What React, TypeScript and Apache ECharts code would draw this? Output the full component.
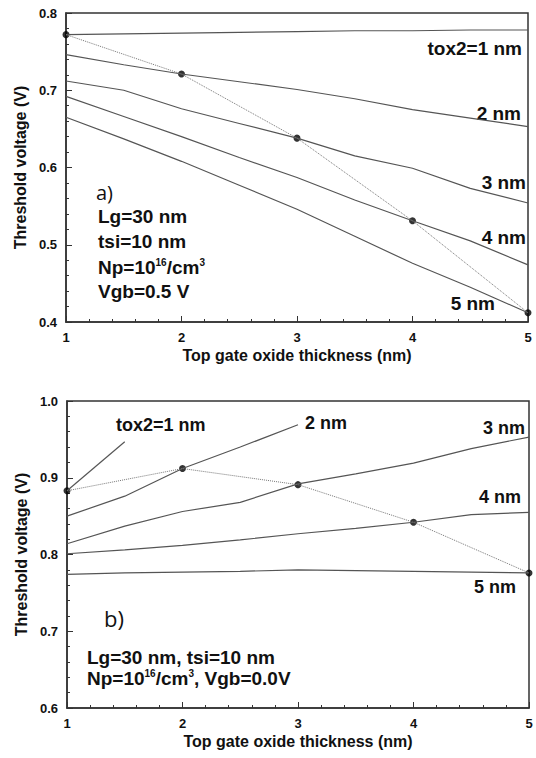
import React, { useEffect, useRef } from "react";
import * as echarts from "echarts";

// ---------- data ----------
const xs = [1, 1.5, 2, 2.5, 3, 3.5, 4, 4.5, 5];

// (a) Vgb = 0.5 V
const aTox1 = [0.772, 0.773, 0.774, 0.775, 0.776, 0.777, 0.777, 0.778, 0.778];
const aTox2 = [0.746, 0.733, 0.721, 0.711, 0.701, 0.689, 0.675, 0.664, 0.653];
const aTox3 = [0.712, 0.700, 0.676, 0.657, 0.638, 0.615, 0.599, 0.573, 0.554];
const aTox4 = [0.692, 0.666, 0.640, 0.613, 0.587, 0.558, 0.531, 0.505, 0.474];
const aTox5 = [0.665, 0.637, 0.608, 0.577, 0.546, 0.511, 0.476, 0.445, 0.412];
const dotX = [1, 2, 3, 4, 5];
const aDots = [0.772, 0.721, 0.638, 0.531, 0.412];

// (b) Vgb = 0.0 V
const bTox1X = [1, 1.5];
const bTox1 = [0.883, 0.947];
const bTox2X = [1, 1.5, 2, 2.5, 3];
const bTox2 = [0.850, 0.876, 0.912, 0.940, 0.969];
const bTox3 = [0.814, 0.837, 0.856, 0.868, 0.892, 0.905, 0.919, 0.938, 0.953];
const bTox4 = [0.801, 0.806, 0.812, 0.819, 0.827, 0.834, 0.842, 0.852, 0.855];
const bTox5 = [0.774, 0.776, 0.777, 0.778, 0.780, 0.779, 0.778, 0.777, 0.776];
const bDots = [0.883, 0.912, 0.891, 0.842, 0.776];

const xTicks = ["1", "2", "3", "4", "5"];
const xTitle = "Top gate oxide thickness (nm)";
const yTitle = "Threshold voltage (V)";

const FONT = "'Liberation Sans', Arial, sans-serif";

const pairs = (x: number[], y: number[]) => y.map((v, i) => [x[i], v]);

function lineSeries(idx: number, x: number[], y: number[]) {
  return {
    type: "line",
    xAxisIndex: idx,
    yAxisIndex: idx,
    data: pairs(x, y),
    showSymbol: false,
    silent: true,
    lineStyle: { color: "#555", width: 1.2 },
  };
}

function dottedSeries(idx: number, y: number[]) {
  return {
    type: "line",
    xAxisIndex: idx,
    yAxisIndex: idx,
    data: pairs(dotX, y),
    showSymbol: false,
    silent: true,
    lineStyle: { color: "#777", width: 1, type: "dotted" },
  };
}

function dotSeries(idx: number, y: number[]) {
  return {
    type: "scatter",
    xAxisIndex: idx,
    yAxisIndex: idx,
    data: pairs(dotX, y),
    symbolSize: 7,
    silent: true,
    itemStyle: { color: "#000" },
  };
}

function xAxis(idx: number) {
  return {
    type: "value",
    gridIndex: idx,
    min: 1,
    max: 5,
    interval: 1,
    axisLine: { show: true, lineStyle: { color: "#333", width: 1.5 } },
    axisTick: { show: true, inside: true, length: 6, lineStyle: { color: "#333" } },
    minorTick: { show: true, splitNumber: 5, length: 3, lineStyle: { color: "#333" } },
    splitLine: { show: false },
    minorSplitLine: { show: false },
    axisLabel: {
      margin: 9,
      color: "#111",
      fontWeight: "bold",
      fontSize: 13,
      fontFamily: FONT,
      formatter: (v: number) => xTicks[Math.round(v) - 1] ?? "",
    },
    name: xTitle,
    nameLocation: "middle",
    nameGap: 25,
    nameTextStyle: { color: "#111", fontWeight: "bold", fontSize: 16, fontFamily: FONT },
  };
}

function yAxis(idx: number, min: number, max: number) {
  return {
    type: "value",
    gridIndex: idx,
    min,
    max,
    interval: 0.1,
    axisLine: { show: true, lineStyle: { color: "#333", width: 1.5 } },
    axisTick: { show: true, inside: true, length: 6, lineStyle: { color: "#333" } },
    minorTick: { show: true, splitNumber: 5, length: 3, lineStyle: { color: "#333" } },
    splitLine: { show: false },
    minorSplitLine: { show: false },
    axisLabel: {
      margin: 9,
      color: "#111",
      fontWeight: "bold",
      fontSize: 13,
      fontFamily: FONT,
      formatter: (v: number) => v.toFixed(1),
    },
    name: yTitle,
    nameLocation: "middle",
    nameGap: 38,
    nameRotate: 90,
    nameTextStyle: { color: "#111", fontWeight: "bold", fontSize: 16, fontFamily: FONT },
  };
}

function txt(x: number, y: number, text: string, size: number, align = "left", extra: any = {}) {
  return {
    type: "text",
    x,
    y,
    silent: true,
    style: {
      text,
      fill: "#111",
      fontSize: size,
      fontWeight: "bold",
      fontFamily: FONT,
      align,
      verticalAlign: "middle",
      ...extra,
    },
  };
}

const supRich = {
  sup: { fontSize: 10, fontWeight: "bold", fontFamily: FONT, fill: "#111", color: "#111", verticalAlign: "top" },
};

export default function App() {
  const ref = useRef<HTMLDivElement>(null);

  useEffect(() => {
    if (!ref.current) return;
    const chart = echarts.init(ref.current, undefined, { renderer: "svg" });
    chart.setOption({
      animation: false,
      backgroundColor: "#fff",
      grid: [
        { left: 66, top: 13, width: 462, height: 309, show: true, borderColor: "#333", borderWidth: 1.5, backgroundColor: "transparent" },
        { left: 67, top: 401, width: 462, height: 307, show: true, borderColor: "#333", borderWidth: 1.5, backgroundColor: "transparent" },
      ],
      xAxis: [xAxis(0), xAxis(1)],
      yAxis: [yAxis(0, 0.4, 0.8), yAxis(1, 0.6, 1.0)],
      series: [
        lineSeries(0, xs, aTox1),
        lineSeries(0, xs, aTox2),
        lineSeries(0, xs, aTox3),
        lineSeries(0, xs, aTox4),
        lineSeries(0, xs, aTox5),
        dottedSeries(0, aDots),
        dotSeries(0, aDots),
        lineSeries(1, bTox1X, bTox1),
        lineSeries(1, bTox2X, bTox2),
        lineSeries(1, xs, bTox3),
        lineSeries(1, xs, bTox4),
        lineSeries(1, xs, bTox5),
        dottedSeries(1, bDots),
        dotSeries(1, bDots),
      ],
      graphic: [
        // (a) labels
        txt(522, 48, "tox2=1 nm", 19, "right"),
        txt(521, 113, "2 nm", 19, "right"),
        txt(526, 182, "3 nm", 19, "right"),
        txt(526, 237, "4 nm", 19, "right"),
        txt(495, 303, "5 nm", 19, "right"),
        txt(96, 192, "a)", 20, "left", { fontWeight: "normal", fontFamily: "'Open Sans', sans-serif" }),
        txt(98, 216, "Lg=30 nm", 19),
        txt(98, 241, "tsi=10 nm", 19),
        txt(98, 267, "Np=10{sup|16}/cm{sup|3}", 19, "left", { rich: supRich }),
        txt(98, 291, "Vgb=0.5 V", 19),
        // (b) labels
        txt(116, 425, "tox2=1 nm", 18),
        txt(305, 423, "2 nm", 18),
        txt(525, 428, "3 nm", 18, "right"),
        txt(521, 497, "4 nm", 18, "right"),
        txt(516, 587, "5 nm", 18, "right"),
        txt(104, 618, "b)", 22, "left", { fontWeight: "normal", fontFamily: "'Open Sans', sans-serif" }),
        txt(87, 657, "Lg=30 nm, tsi=10 nm", 19),
        txt(87, 678, "Np=10{sup|16}/cm{sup|3}, Vgb=0.0V", 19, "left", { rich: supRich }),
      ],
    });
    return () => chart.dispose();
  }, []);

  return (
    <div
      ref={ref}
      style={{ position: "fixed", left: 0, top: 0, width: 536, height: 758, background: "#fff" }}
    />
  );
}
